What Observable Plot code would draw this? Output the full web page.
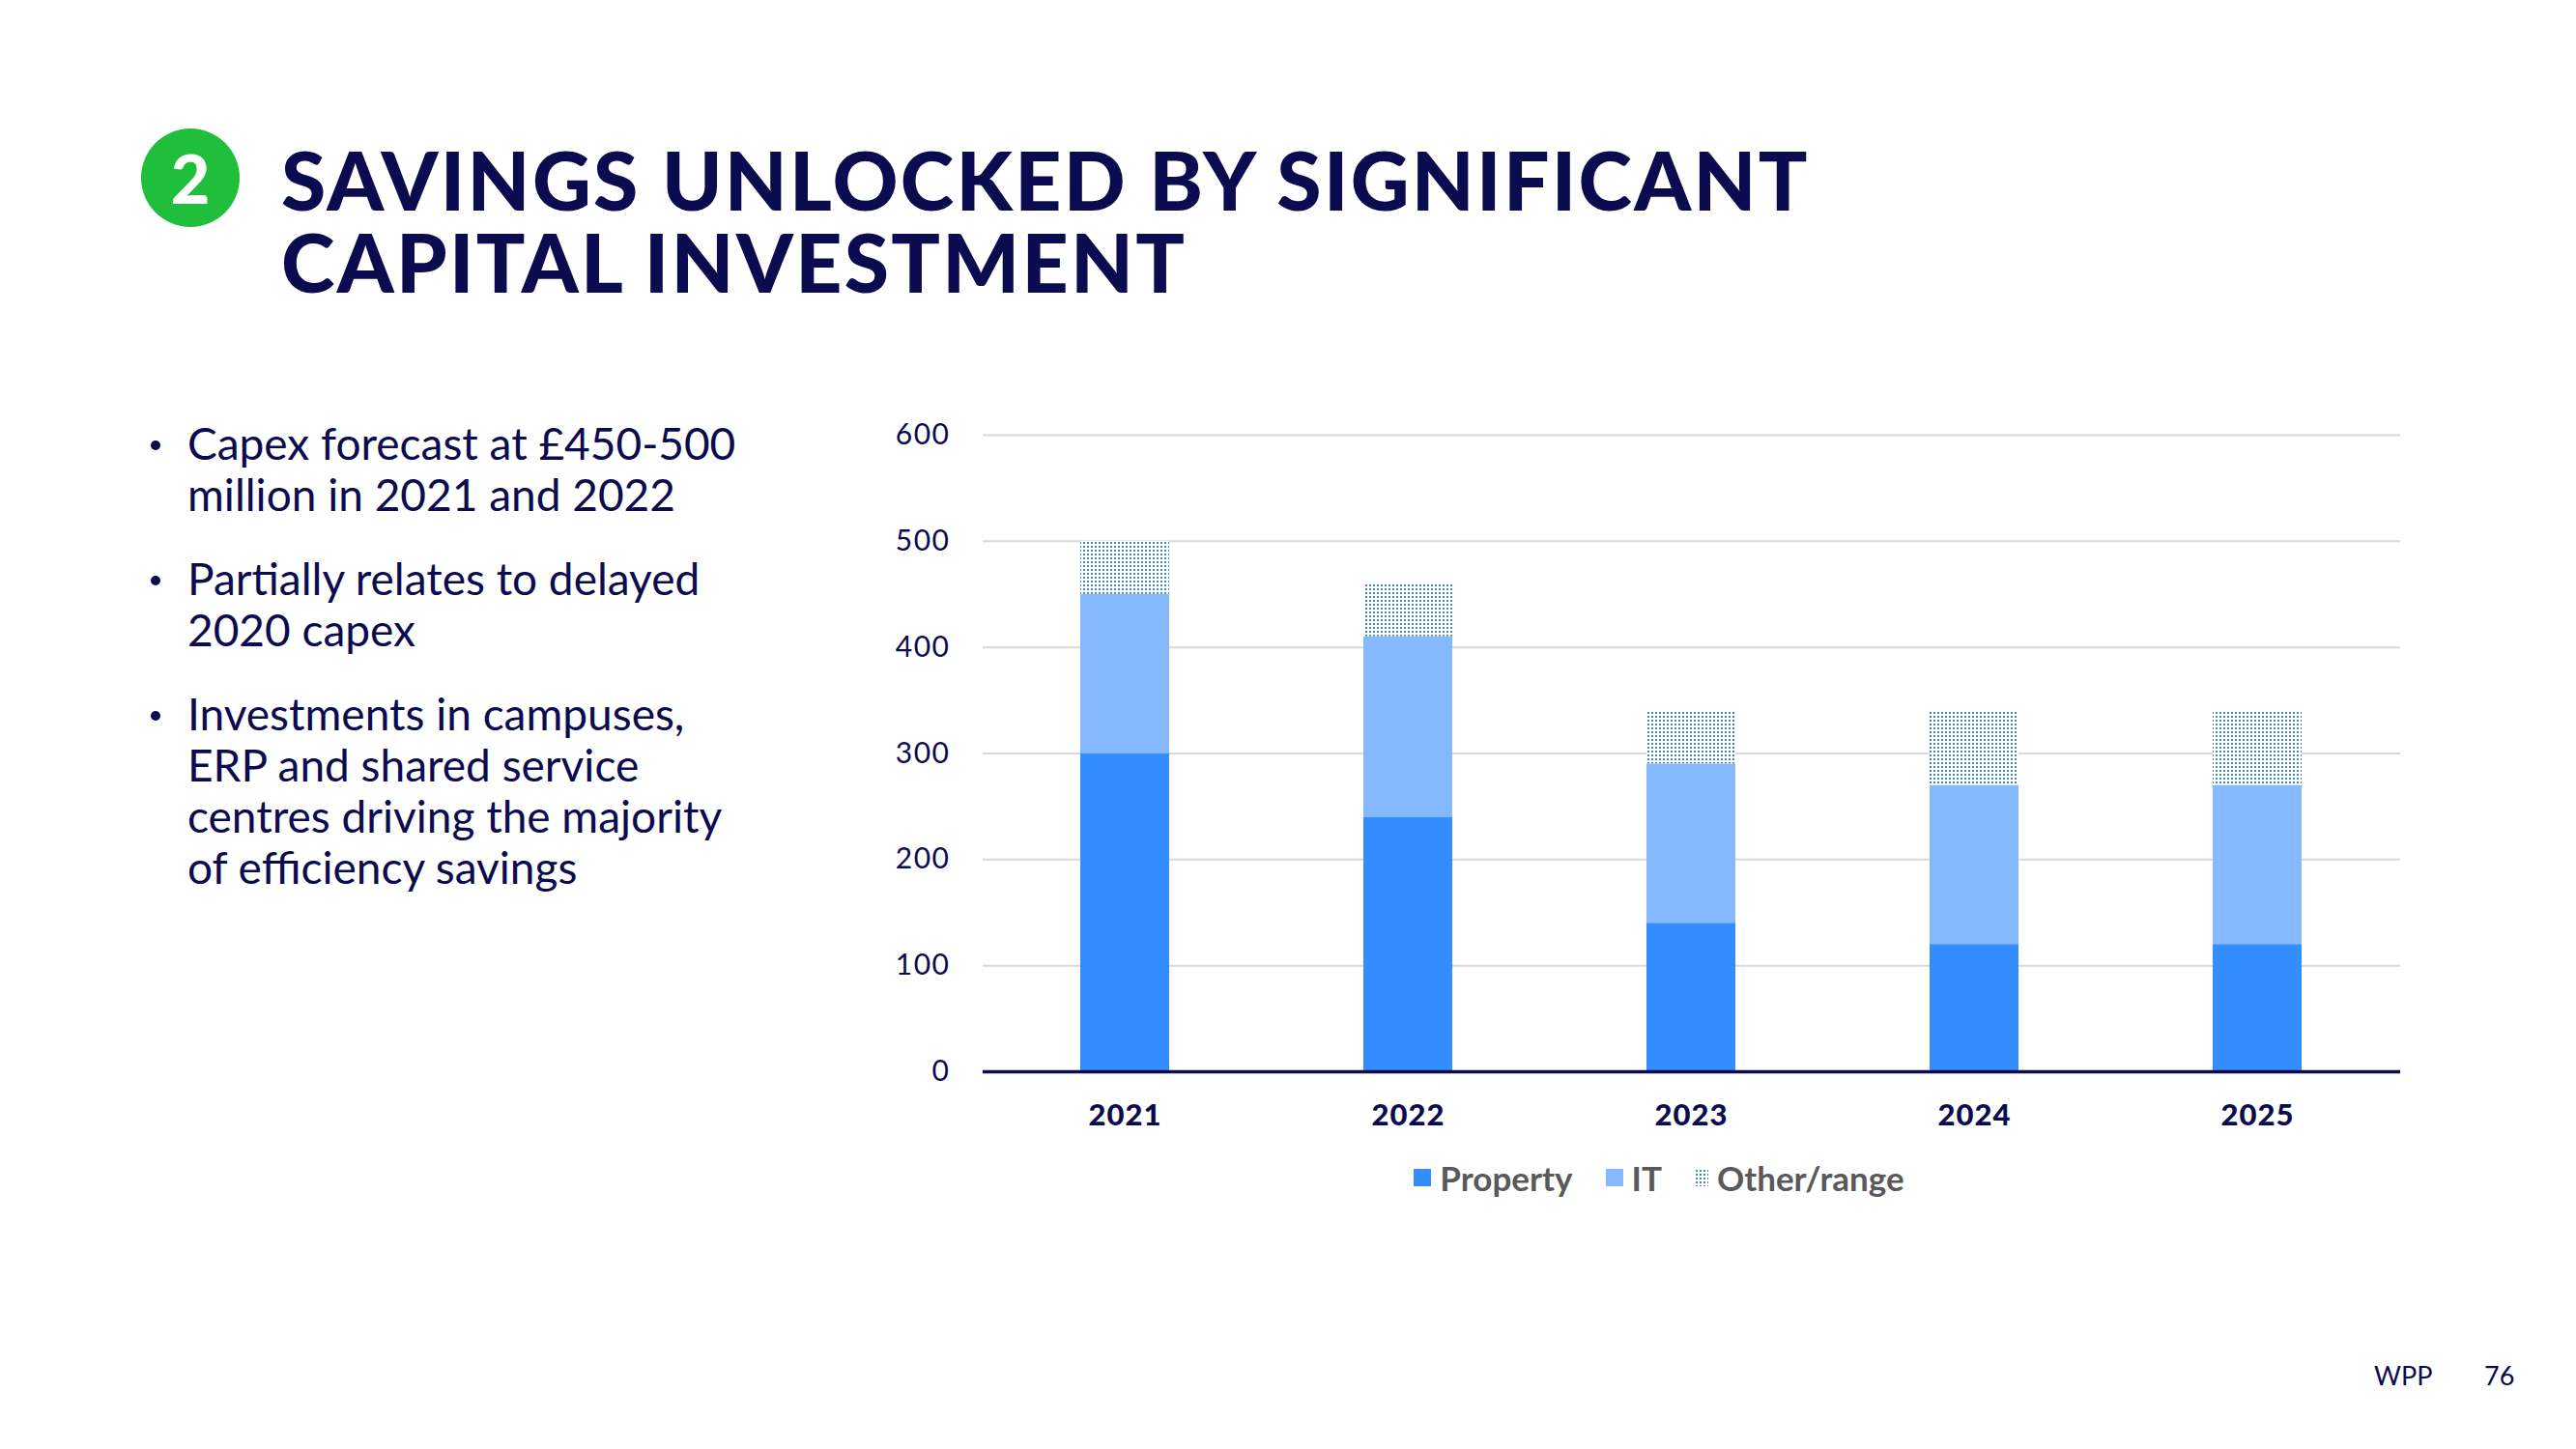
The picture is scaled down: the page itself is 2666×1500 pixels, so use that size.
<!DOCTYPE html>
<html>
<head>
<meta charset="utf-8">
<script src="https://cdn.jsdelivr.net/npm/d3@7"></script>
<script src="https://cdn.jsdelivr.net/npm/@observablehq/plot@0.6"></script>
<style>
  html, body { margin: 0; padding: 0; background: #fff; }
  body { width: 2666px; height: 1500px; position: relative; overflow: hidden; font-family: Lato, "Noto Sans", sans-serif; color: #0b0b4f; }
  .badge { position: absolute; left: 146px; top: 133px; width: 102px; height: 102px; border-radius: 50%; background: #1fbf3c; color: #fff; font: 900 70px/102px Lato, Inter, sans-serif; text-align: center; }
  .title { position: absolute; left: 291px; top: 143px; font: 900 84px/85px Lato, Inter, sans-serif; color: #0b0b4f; letter-spacing: 2.3px; white-space: pre; }
  .bullets { position: absolute; left: 194px; top: 432px; width: 680px; font: 400 46px/53px Lato, sans-serif; color: #0b0b4f; }
  .bullets .b { position: relative; margin-bottom: 34px; }
  .bullets .b::before { content: ""; position: absolute; left: -38px; top: 24px; width: 10px; height: 10px; border-radius: 50%; background: #0b0b4f; }
  #chart { position: absolute; left: 900px; top: 400px; }
  .legend { position: absolute; left: 0; width: 3434px; top: 1197px; display: flex; justify-content: center; font: 700 35px/44px Lato, sans-serif; color: #595959; }
  .legend .item { display: flex; align-items: center; margin: 0 17px; }
  .legend .sw { width: 18px; height: 18px; margin-right: 9px; }
  .footer { position: absolute; top: 1407px; font: 400 27px/34px Lato, sans-serif; color: #0b0b4f; }
</style>
</head>
<body>
<svg width="0" height="0" style="position:absolute">
  <defs>
    <pattern id="dots" patternUnits="userSpaceOnUse" width="4" height="4">
      <rect width="4" height="4" fill="#ffffff"></rect>
      <rect x="1" y="1" width="2" height="2" fill="#3f80d8"></rect>
    </pattern>
  </defs>
</svg>
<div class="badge">2</div>
<div class="title" id="title"></div>
<div class="bullets">
  <div class="b">Capex forecast at £450-500<br>million in 2021 and 2022</div>
  <div class="b">Partially relates to delayed<br>2020 capex</div>
  <div class="b">Investments in campuses,<br>ERP and shared service<br>centres driving the majority<br>of efficiency savings</div>
</div>
<div id="chart"></div>
<div class="legend" id="legend"></div>
<div class="footer" style="left:2457px">WPP</div>
<div class="footer" style="left:2571px">76</div>
<script>
document.getElementById("title").textContent = "SAVINGS UNLOCKED BY SIGNIFICANT\nCAPITAL INVESTMENT";

const years = ["2021", "2022", "2023", "2024", "2025"];
const seriesNames = ["Property", "IT", "Other/range"];
const property = [300, 240, 140, 120, 120];
const it = [150, 170, 150, 150, 150];
const other = [50, 50, 50, 70, 70];
const yTicks = [0, 100, 200, 300, 400, 500, 600];
const seriesFills = ["#338dff", "#85b8ff", "url(#dots)"];

const navy = "#0b0b4f";
const rows = [];
years.forEach((y, i) => {
  rows.push({year: y, series: seriesNames[0], value: property[i]});
  rows.push({year: y, series: seriesNames[1], value: it[i]});
  rows.push({year: y, series: seriesNames[2], value: other[i]});
});

const chart = Plot.plot({
  width: 1620,
  height: 780,
  marginLeft: 117,
  marginRight: 36,
  marginTop: 50,
  marginBottom: 71,
  style: {fontFamily: "Lato, 'Noto Sans', sans-serif", color: navy, background: "transparent"},
  x: {domain: years, paddingInner: 0.686, paddingOuter: 0.343, label: null},
  y: {domain: [0, 600], label: null},
  color: {domain: seriesNames, range: seriesFills},
  marks: [
    Plot.gridY(yTicks, {stroke: "#d9d9d9", strokeOpacity: 1, strokeWidth: 2}),
    Plot.barY(rows, {x: "year", y: "value", fill: "series", order: seriesNames}),
    Plot.ruleY([0], {stroke: navy, strokeWidth: 3.4}),
    Plot.axisY(yTicks, {tickSize: 0, tickPadding: 34, fontSize: 30, fill: navy, label: null}),
    Plot.axisX({tickSize: 0, tickPadding: 33, fontSize: 31, fontWeight: 900, fill: navy, label: null})
  ]
});
chart.querySelectorAll("[aria-label='y-axis tick label'] text").forEach(t => t.style.letterSpacing = "1.5px");
chart.querySelectorAll("[aria-label='x-axis tick label'] text").forEach(t => t.style.letterSpacing = "1px");
document.getElementById("chart").appendChild(chart);

const legend = document.getElementById("legend");
seriesNames.forEach((s, i) => {
  const item = document.createElement("div");
  item.className = "item";
  const sw = document.createElement("span");
  sw.className = "sw";
  if (i === 2) {
    sw.style.width = "14px";
    sw.style.backgroundImage = "radial-gradient(#3f80d8 45%, transparent 50%)";
    sw.style.backgroundSize = "4px 4px";
    sw.style.backgroundColor = "#fff";
  } else {
    sw.style.background = seriesFills[i];
  }
  const t = document.createElement("span");
  t.textContent = s;
  item.appendChild(sw);
  item.appendChild(t);
  legend.appendChild(item);
});
</script>
</body>
</html>
